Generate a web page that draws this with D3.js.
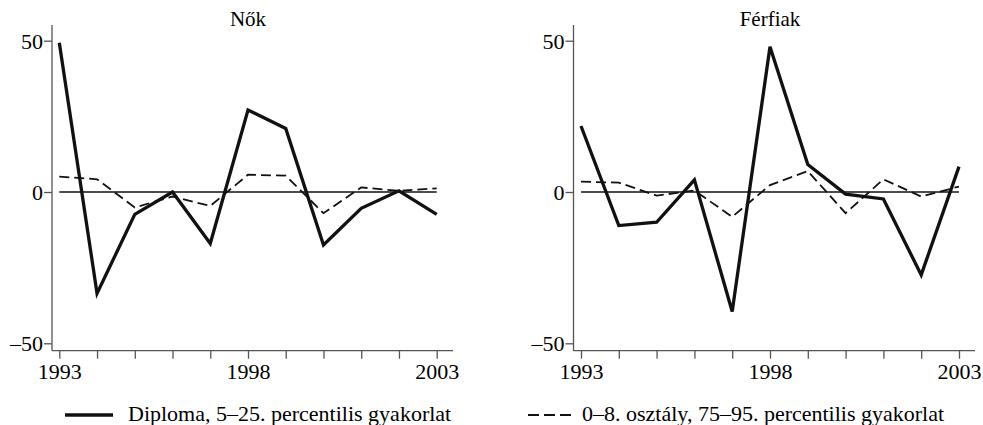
<!DOCTYPE html>
<html>
<head>
<meta charset="utf-8">
<script src="https://cdn.jsdelivr.net/npm/d3@7"></script>
<style>
  body { margin: 0; background: #fff; }
</style>
</head>
<body>
<svg id="chart" width="983" height="425"></svg>
<script>
years = d3.range(1993, 2004);
yearLabels = [1993, 1998, 2003];
yTicks = [-50, 0, 50];
panelTitles = ["Nők", "Férfiak"];
seriesNames = ["Diploma, 5–25. percentilis gyakorlat", "0–8. osztály, 75–95. percentilis gyakorlat"];

// Nők
womenDiploma = [49.3, -33.5, -7.4, 0, -17, 27.1, 21.0, -17.5, -5.4, 0.4, -7.4];
womenElementary = [5.1, 4.2, -5.1, -1.5, -4.6, 5.7, 5.4, -7, 1.5, 0.4, 1.2];
// Férfiak
menDiploma = [21.8, -11.1, -10, 4.0, -39.5, 48.0, 9.1, -0.7, -2.3, -27.4, 8.4];
menElementary = [3.4, 3.1, -1.2, 0.5, -8.2, 2.3, 6.9, -7.0, 4.2, -1.5, 1.8];

panels = [
    {title: panelTitles[0], axisX: 52, x0: 59.3, x1: 436.7, axisEnd: 453, solid: womenDiploma, dashed: womenElementary},
    {title: panelTitles[1], axisX: 573.5, x0: 581, x1: 959, axisEnd: 975, solid: menDiploma, dashed: menElementary}
];

serif = "'Liberation Serif', 'Times New Roman', 'DejaVu Serif', serif";
svg = d3.select("#chart").attr("font-family", serif);
y = d3.scaleLinear().domain([-50, 50]).range([343.3, 40.7]);
axisColour = "#555";

panels.forEach((p) => {
    x = d3.scaleLinear().domain([1993, 2003]).range([p.x0, p.x1]);
    g = svg.append("g");

    // axes frame lines
    g.append("line")
        .attr("x1", p.axisX).attr("x2", p.axisX)
        .attr("y1", 25).attr("y2", 350.7)
        .attr("stroke", axisColour).attr("stroke-width", 1.3);
    g.append("line")
        .attr("x1", p.axisX).attr("x2", p.axisEnd)
        .attr("y1", 350.7).attr("y2", 350.7)
        .attr("stroke", axisColour).attr("stroke-width", 1.3);

    // y axis
    yAxis = g.append("g")
        .attr("transform", "translate(" + p.axisX + ",0)")
        .call(d3.axisLeft(y).tickValues(yTicks).tickSize(8).tickPadding(1)
            .tickFormat((d) => d < 0 ? "\u2013" + Math.abs(d) : d));
    yAxis.attr("font-family", serif).attr("font-size", 22);
    yAxis.select(".domain").remove();
    yAxis.selectAll("line").attr("stroke", axisColour).attr("stroke-width", 1.3);
    yAxis.selectAll("text").attr("fill", "#000").attr("dy", "0.34em");

    // x axis
    xAxis = g.append("g")
        .attr("transform", "translate(0,350.7)")
        .call(d3.axisBottom(x).tickValues(years).tickSize(8).tickPadding(5)
            .tickFormat((d) => yearLabels.includes(d) ? d : ""));
    xAxis.attr("font-family", serif).attr("font-size", 22);
    xAxis.select(".domain").remove();
    xAxis.selectAll("line").attr("stroke", axisColour).attr("stroke-width", 1.3);
    xAxis.selectAll("text").attr("fill", "#000");

    // zero reference line
    g.append("line")
        .attr("x1", x(1993)).attr("x2", x(2003))
        .attr("y1", y(0)).attr("y2", y(0))
        .attr("stroke", "#111").attr("stroke-width", 1.3);

    line = d3.line().x((d, i) => x(years[i])).y((d) => y(d));

    g.append("path")
        .datum(p.dashed)
        .attr("d", line)
        .attr("fill", "none")
        .attr("stroke", "#111")
        .attr("stroke-width", 1.8)
        .attr("stroke-dasharray", "10,5");

    g.append("path")
        .datum(p.solid)
        .attr("d", line)
        .attr("fill", "none")
        .attr("stroke", "#111")
        .attr("stroke-width", 3.3);

    // title
    g.append("text")
        .attr("x", (p.x0 + p.x1) / 2)
        .attr("y", 26)
        .attr("text-anchor", "middle")
        .attr("font-size", 21)
        .attr("fill", "#000")
        .text(p.title);
});

// legend
legend = [
    {x1: 65, x2: 113, tx: 128, dash: null, w: 3.3},
    {x1: 528, x2: 573, tx: 582, dash: "11,5", w: 1.8}
];
legend.forEach((l, i) => {
    svg.append("line")
        .attr("x1", l.x1).attr("x2", l.x2)
        .attr("y1", 415).attr("y2", 415)
        .attr("stroke", "#111")
        .attr("stroke-width", l.w)
        .attr("stroke-dasharray", l.dash);
    svg.append("text")
        .attr("x", l.tx)
        .attr("y", 421)
        .attr("font-size", 22)
        .attr("fill", "#000")
        .text(seriesNames[i]);
});
</script>
</body>
</html>
